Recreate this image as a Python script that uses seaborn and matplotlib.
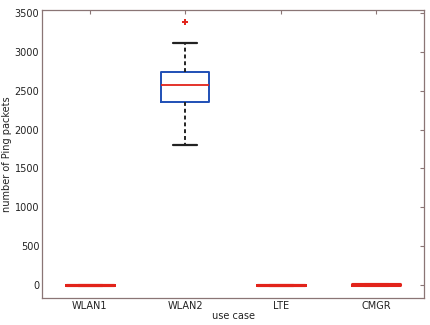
import pandas as pd
import numpy as np
import matplotlib
matplotlib.use('Agg')
import matplotlib.pyplot as plt
import seaborn as sns

# values (packets per run)
cases = ['WLAN1', 'WLAN2', 'LTE', 'CMGR']
wlan1 = [0, 0, 0, 0, 0, 0, 0, 0, 0]
wlan2 = [1800, 2100, 2350, 2480, 2580, 2660, 2745, 3120, 3380]
lte = [0, 0, 0, 0, 0, 0, 0, 0, 0]
cmgr = [0, 0, 0, 5, 8, 10, 12, 15, 15]

rows = []
for name, vals in zip(cases, [wlan1, wlan2, lte, cmgr]):
    for v in vals:
        rows.append({'use case': name, 'packets': v})
df = pd.DataFrame(rows)

sns.set_style('white')
plt.rcParams['font.family'] = ['DejaVu Sans']

fig = plt.figure(figsize=(4.31, 3.25), dpi=100)
ax = fig.add_axes([42 / 431, 27 / 325, 382 / 431, 288 / 325])

sns.boxplot(data=df, x='use case', y='packets', order=cases, width=0.5, whis=1.5,
            fill=False, linewidth=1.3, ax=ax,
            boxprops=dict(color='#1f4fb5', linewidth=1.4),
            medianprops=dict(color='#e2231a', linewidth=1.3, zorder=5),
            whiskerprops=dict(color='#222222', linestyle=(0, (2, 1.5)), linewidth=1.4),
            capprops=dict(color='#222222', linewidth=1.6),
            flierprops=dict(marker='+', markeredgecolor='#e2231a', markersize=5, markeredgewidth=1.4))

# collapsed (near-zero) boxes show only as a thick red line, like the original
for ln in ax.lines:
    y = np.asarray(ln.get_ydata(), dtype=float)
    if len(y) and np.all(np.abs(y) < 50):
        ln.set_color('#e2231a')
        ln.set_linestyle('-')
        ln.set_linewidth(2.2)
        ln.set_zorder(5)

ax.set_xlim(-0.5, 3.5)
ax.set_ylim(-170, 3540)
ax.set_yticks(np.arange(0, 3501, 500))
ax.set_xlabel('use case', fontsize=7, labelpad=0, color='#222222')
ax.set_ylabel('number of Ping packets', fontsize=7, labelpad=2, color='#222222')
ax.tick_params(axis='both', labelsize=7, direction='in', length=3, color='#8a7575',
               labelcolor='#222222', top=True, right=True, pad=2)
for s in ax.spines.values():
    s.set_color('#8a7575')
    s.set_linewidth(0.9)

fig.savefig('out.png', dpi=100, facecolor='white')
